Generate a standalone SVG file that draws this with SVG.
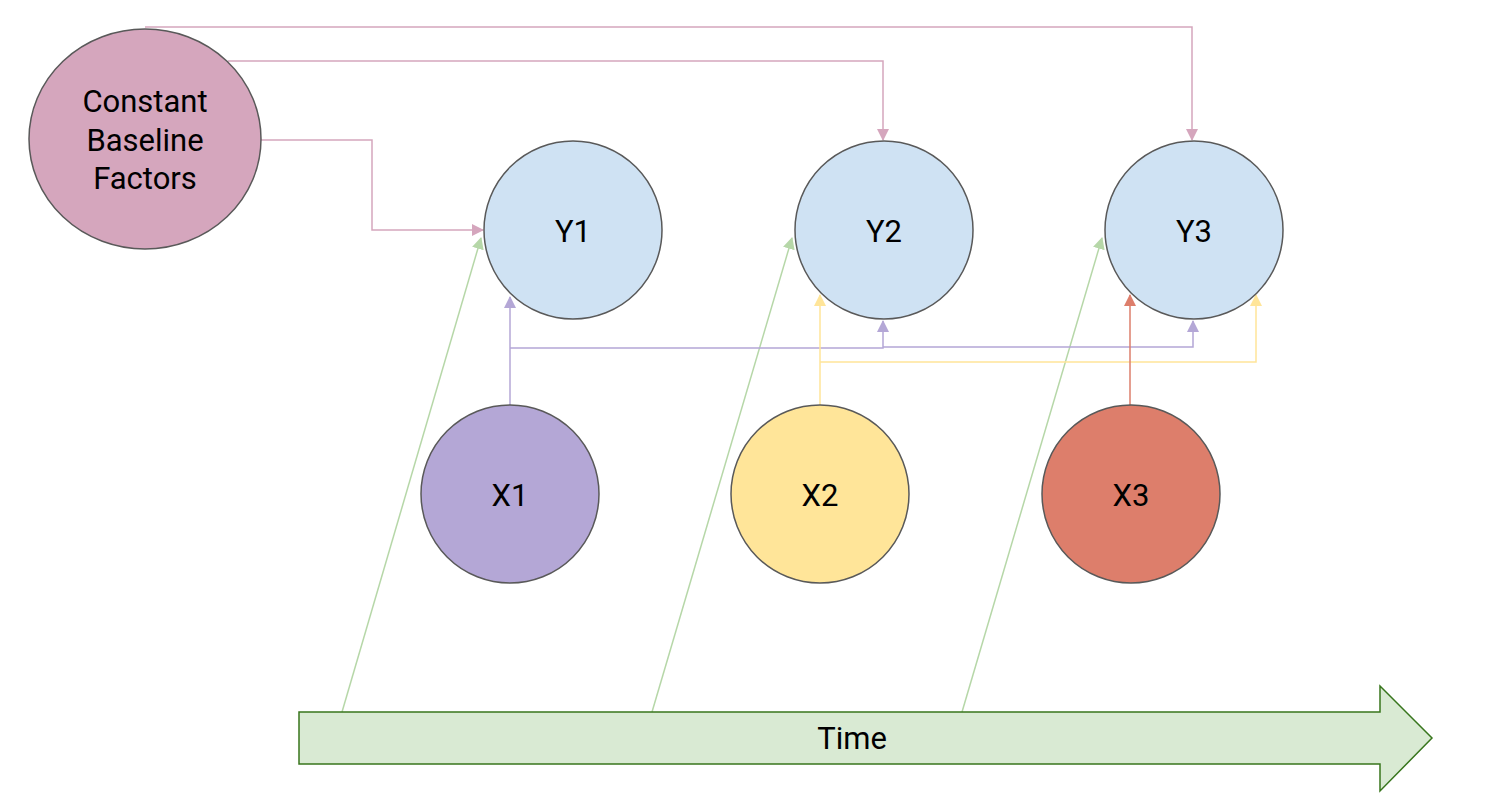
<svg xmlns="http://www.w3.org/2000/svg" width="1495" height="804" viewBox="0 0 1495 804">
<style>
text{font-family:Roboto,"Liberation Sans",sans-serif;font-size:31px;fill:#000;text-anchor:middle;dominant-baseline:central}
.node{stroke:#595959;stroke-width:1.5}
.c{fill:none;stroke-width:1.5}
</style>
<defs>
<marker id="mp" markerWidth="12" markerHeight="12" refX="11" refY="6" orient="auto" markerUnits="userSpaceOnUse" viewBox="0 0 12 12"><path d="M0,0L12,6L0,12z" fill="#d5a6bd"/></marker>
<marker id="mg" markerWidth="12" markerHeight="12" refX="11" refY="6" orient="auto" markerUnits="userSpaceOnUse" viewBox="0 0 12 12"><path d="M0,0L12,6L0,12z" fill="#b6d7a8"/></marker>
<marker id="mv" markerWidth="12" markerHeight="12" refX="11" refY="6" orient="auto" markerUnits="userSpaceOnUse" viewBox="0 0 12 12"><path d="M0,0L12,6L0,12z" fill="#b4a7d6"/></marker>
<marker id="my" markerWidth="12" markerHeight="12" refX="11" refY="6" orient="auto" markerUnits="userSpaceOnUse" viewBox="0 0 12 12"><path d="M0,0L12,6L0,12z" fill="#ffe599"/></marker>
<marker id="mr" markerWidth="12" markerHeight="12" refX="11" refY="6" orient="auto" markerUnits="userSpaceOnUse" viewBox="0 0 12 12"><path d="M0,0L12,6L0,12z" fill="#dd7e6b"/></marker>
</defs>
<rect width="1495" height="804" fill="#fff"/>
<g id="connectors">
<path class="c" stroke="#d5a6bd" d="M145,27H1192V140" marker-end="url(#mp)"/>
<path class="c" stroke="#d5a6bd" d="M228,61H883V140" marker-end="url(#mp)"/>
<path class="c" stroke="#d5a6bd" stroke-width="2" d="M261,140H372V230H483" marker-end="url(#mp)"/>
<path class="c" stroke="#b6d7a8" d="M342,712L481,238" marker-end="url(#mg)"/>
<path class="c" stroke="#b6d7a8" d="M652,712L792,238" marker-end="url(#mg)"/>
<path class="c" stroke="#b6d7a8" d="M962,712L1102,238" marker-end="url(#mg)"/>
<path class="c" stroke="#b4a7d6" stroke-width="2" d="M510,405V297"  marker-end="url(#mv)"/>
<path class="c" stroke="#b4a7d6" stroke-width="2" d="M510,348H883V321" marker-end="url(#mv)"/>
<path class="c" stroke="#b4a7d6" d="M883,347H1193V321" marker-end="url(#mv)"/>
<path class="c" stroke="#ffe599" stroke-width="2" d="M820,405V295" marker-end="url(#my)"/>
<path class="c" stroke="#ffe599" d="M820,362H1256V295" marker-end="url(#my)"/>
<path class="c" stroke="#dd7e6b" d="M1130,405V295" marker-end="url(#mr)"/>
</g>
<g id="cbf"><ellipse class="node" cx="145" cy="139" rx="116" ry="110" fill="#d5a6bd"/>
<text x="145" y="101">Constant</text><text x="145" y="140">Baseline</text><text x="145" y="178">Factors</text></g>
<g id="y1"><circle class="node" cx="573" cy="230" r="89" fill="#cfe2f3"/><text x="573" y="231">Y1</text></g>
<g id="y2"><circle class="node" cx="884" cy="230" r="89" fill="#cfe2f3"/><text x="884" y="231">Y2</text></g>
<g id="y3"><circle class="node" cx="1194" cy="230" r="89" fill="#cfe2f3"/><text x="1194" y="231">Y3</text></g>
<g id="x1"><circle class="node" cx="510" cy="494" r="89" fill="#b4a7d6"/><text x="510" y="495">X1</text></g>
<g id="x2"><circle class="node" cx="820" cy="494" r="89" fill="#ffe599"/><text x="820" y="495">X2</text></g>
<g id="x3"><circle class="node" cx="1131" cy="494" r="89" fill="#dd7e6b"/><text x="1131" y="495">X3</text></g>
<g id="time"><path d="M299,712H1380V686L1432,738L1380,791V764H299Z" fill="#d9ead3" stroke="#38761d" stroke-width="1.5"/>
<text x="852" y="738">Time</text></g>
</svg>
